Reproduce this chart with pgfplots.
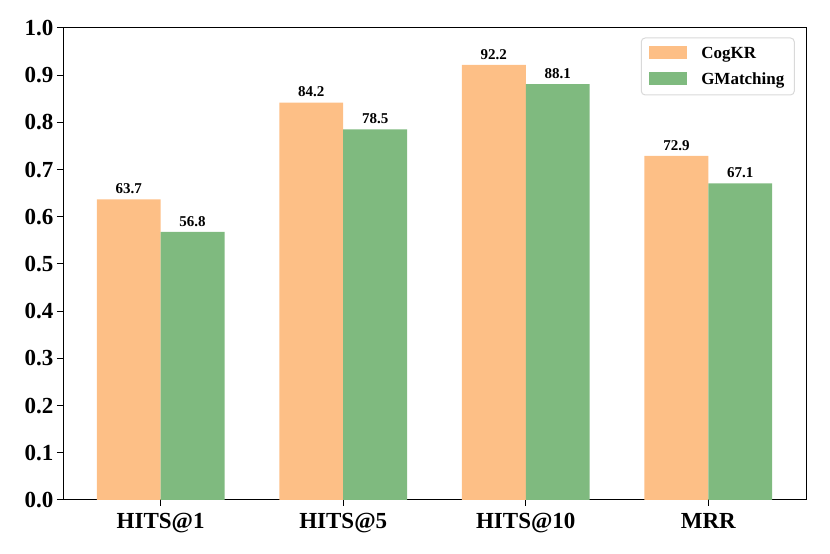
\documentclass[border=0pt]{standalone}
\usepackage{fontspec}
\setmainfont{Liberation Serif}
\usepackage{pgfplots}
\pgfplotsset{compat=1.18}
\definecolor{cogkr}{HTML}{FDBF86}
\definecolor{gmat}{HTML}{7FBA7F}
\begin{document}
\begin{tikzpicture}
\begin{axis}[
    scale only axis,
    width=743pt, height=472pt,
    xmin=-0.535, xmax=3.535,
    ymin=0, ymax=1,
    xtick={0,1,2,3},
    xticklabels={HITS@1,HITS@5,HITS@10,MRR},
    ytick={0,0.1,...,1.0},
    yticklabel style={/pgf/number format/.cd,fixed,fixed zerofill,precision=1},
    /pgf/number format/assume math mode=true,
    ticklabel style={font=\fontsize{23}{27}\selectfont\bfseries},
    xticklabel style={yshift=-4pt},
    tick align=outside, xtick pos=bottom, ytick pos=left,
    major tick length=6pt,
    tick style={black, line width=1pt},
    axis line style={line width=1pt},
    bar width=0.35, ybar=0pt,
    nodes near coords,
    point meta=explicit symbolic,
    every node near coord/.append style={font=\fontsize{15}{18}\selectfont\bfseries, yshift=2pt},
    legend style={at={(0.985,0.98)}, anchor=north east, draw=black!15, line width=1pt, rounded corners=4pt,
        font=\fontsize{17}{20}\selectfont\bfseries, row sep=9pt, inner xsep=8pt, inner ysep=7pt,
        /tikz/every odd column/.append style={column sep=12pt}},
    legend cell align=left,
    legend image code/.code={\fill[#1, sharp corners] (0pt,-6pt) rectangle (38pt,7pt);},
    clip=false,
]
\addplot[fill=cogkr, draw=none, bar shift=-0.175] coordinates {(0,0.637)[63.7] (1,0.842)[84.2] (2,0.922)[92.2] (3,0.729)[72.9]};
\addplot[fill=gmat, draw=none, bar shift=0.175] coordinates {(0,0.568)[56.8] (1,0.785)[78.5] (2,0.881)[88.1] (3,0.671)[67.1]};
\legend{CogKR,GMatching}
\coordinate (bl) at (rel axis cs:0,0);
\coordinate (tr) at (rel axis cs:1,1);
\end{axis}
\path (bl) ++(-63pt,-54pt) coordinate (a);
\path (tr) ++(24pt,28pt) coordinate (b);
\useasboundingbox (a) rectangle (b);
\end{tikzpicture}
\end{document}
